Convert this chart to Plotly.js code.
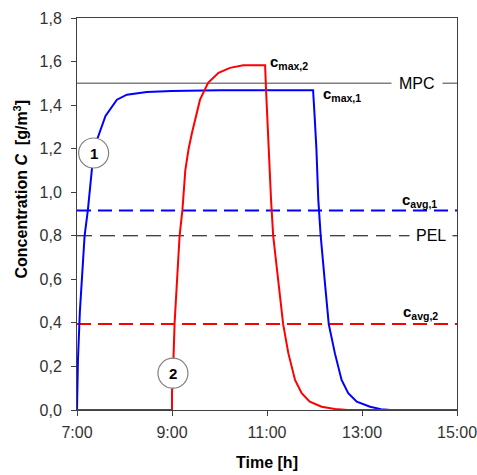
<!DOCTYPE html>
<html>
<head>
<meta charset="utf-8">
<script src="https://cdn.plot.ly/plotly-3.0.1.min.js"></script>
<style>html,body{margin:0;padding:0;background:#fff;}#chart{width:477px;height:475px;}</style>
</head>
<body>
<div id="chart"></div>
<script>
// Curve 1 (blue)
const time1 = [7.00, 7.005, 7.02, 7.06, 7.11, 7.16, 7.23, 7.32, 7.42, 7.60, 7.84, 8.05, 8.47, 9.0, 10.0, 11.0, 11.97, 12.00, 12.04, 12.08, 12.13, 12.22, 12.30, 12.43, 12.57, 12.71, 12.89, 13.17, 13.40, 13.60];
const conc1 = [0.00, 0.09, 0.23, 0.45, 0.63, 0.80, 0.92, 1.12, 1.24, 1.35, 1.425, 1.448, 1.46, 1.465, 1.468, 1.468, 1.468, 1.36, 1.20, 0.966, 0.80, 0.583, 0.394, 0.26, 0.138, 0.077, 0.038, 0.015, 0.004, 0.0];
// Curve 2 (red)
const time2 = [7.0, 9.0, 9.0, 9.02, 9.055, 9.16, 9.22, 9.28, 9.35, 9.42, 9.59, 9.76, 9.98, 10.22, 10.50, 10.96, 10.98, 11.02, 11.065, 11.085, 11.13, 11.24, 11.34, 11.45, 11.59, 11.73, 11.90, 12.15, 12.43, 12.70, 15.0];
const conc2 = [0, 0, 0.08, 0.16, 0.40, 0.80, 0.92, 1.10, 1.20, 1.272, 1.425, 1.502, 1.548, 1.571, 1.583, 1.583, 1.47, 1.27, 1.10, 0.966, 0.80, 0.583, 0.394, 0.26, 0.138, 0.077, 0.038, 0.015, 0.005, 0.0, 0.0];
// Reference levels
const MPC = 1.5;
const PEL = 0.8;
const cAvg1 = 0.916;
const cAvg2 = 0.395;
const timeRange = [7, 15];
const xTickVals = [7, 9, 11, 13, 15];
const xTickText = ['7:00', '9:00', '11:00', '13:00', '15:00'];
const yTickVals = [0, 0.2, 0.4, 0.6, 0.8, 1.0, 1.2, 1.4, 1.6, 1.8];

const sans = '"Liberation Sans", Arial, sans-serif';

function hline(v, color, width, dash) {
  return {x: timeRange, y: [v, v], mode: 'lines', line: {color: color, width: width, dash: dash}, hoverinfo: 'skip', cliponaxis: false};
}

const traces = [
  hline(MPC, '#808080', 1.5, 'solid'),
  hline(PEL, '#000000', 1, '15px,8px'),
  hline(cAvg1, '#0000ff', 2, '14px,7px'),
  hline(cAvg2, '#ff0000', 2, '14px,7px'),
  {x: time1, y: conc1, mode: 'lines', line: {color: '#0000ff', width: 2}, cliponaxis: false},
  {x: time2, y: conc2, mode: 'lines', line: {color: '#ff0000', width: 2}, cliponaxis: false}
];

const labFont = {family: sans, size: 15, color: '#000'};
const layout = {
  width: 477, height: 475,
  margin: {l: 77, r: 20, t: 18, b: 65},
  showlegend: false,
  separators: ',.',
  paper_bgcolor: '#fff', plot_bgcolor: '#fff',
  xaxis: {
    range: timeRange, tickvals: xTickVals, ticktext: xTickText,
    showgrid: false, zeroline: false, showline: true, mirror: true,
    linecolor: '#404040', linewidth: 1, ticks: 'outside', ticklen: 5, tickcolor: '#404040',
    tickfont: {family: sans, size: 16, color: '#333'},
    ticklabeloverflow: 'allow', ticklabelstandoff: 3,
    layer: 'below traces',
    title: {text: '<b>Time [h]</b>', font: {family: sans, size: 16, color: '#000'}, standoff: 16}
  },
  yaxis: {
    range: [0, 1.8], tickvals: yTickVals, tickformat: '.1f',
    showgrid: false, zeroline: false, showline: true, mirror: true,
    linecolor: '#404040', linewidth: 1, ticks: 'outside', ticklen: 5, tickcolor: '#404040',
    tickfont: {family: sans, size: 16, color: '#333'},
    ticklabeloverflow: 'allow', ticklabelstandoff: 6,
    layer: 'below traces'
  },
  shapes: [
    {type: 'circle', xref: 'x', yref: 'y', xsizemode: 'pixel', ysizemode: 'pixel', xanchor: 7.35, yanchor: 1.18,
     x0: -15, x1: 15, y0: -15, y1: 15, line: {color: '#808080', width: 1.2}, fillcolor: '#fff', layer: 'above'},
    {type: 'circle', xref: 'x', yref: 'y', xsizemode: 'pixel', ysizemode: 'pixel', xanchor: 9.02, yanchor: 0.169,
     x0: -15, x1: 15, y0: -15, y1: 15, line: {color: '#808080', width: 1.2}, fillcolor: '#fff', layer: 'above'}
  ],
  annotations: [
    {xref: 'paper', yref: 'paper', x: -0.18, y: 0.564, textangle: -90, showarrow: false,
     text: '<b>Concentration <i>C</i>&nbsp;&nbsp;[g/m<sup>3</sup>]</b>', font: {family: sans, size: 16, color: '#000'}},
    {x: 7.35, y: 1.18, text: '<b>1</b>', showarrow: false, font: {family: sans, size: 15, color: '#000'}},
    {x: 9.02, y: 0.169, text: '<b>2</b>', showarrow: false, font: {family: sans, size: 15, color: '#000'}},
    {x: 14.15, y: MPC, text: 'MPC', showarrow: false, bgcolor: '#fff', borderpad: 7, font: {family: sans, size: 16, color: '#000'}},
    {x: 14.45, y: PEL, text: 'PEL', showarrow: false, bgcolor: '#fff', borderpad: 6, font: {family: sans, size: 16, color: '#000'}},
    {x: 11.02, y: 1.595, xanchor: 'left', text: '<b>c<sub>max,2</sub></b>', showarrow: false, font: labFont},
    {x: 12.14, y: 1.45, xanchor: 'left', text: '<b>c<sub>max,1</sub></b>', showarrow: false, font: labFont},
    {x: 13.8, y: 0.96, xanchor: 'left', text: '<b>c<sub>avg,1</sub></b>', showarrow: false, font: labFont},
    {x: 13.82, y: 0.45, xanchor: 'left', text: '<b>c<sub>avg,2</sub></b>', showarrow: false, font: labFont}
  ]
};

Plotly.newPlot('chart', traces, layout, {displayModeBar: false, staticPlot: true});
</script>
</body>
</html>
